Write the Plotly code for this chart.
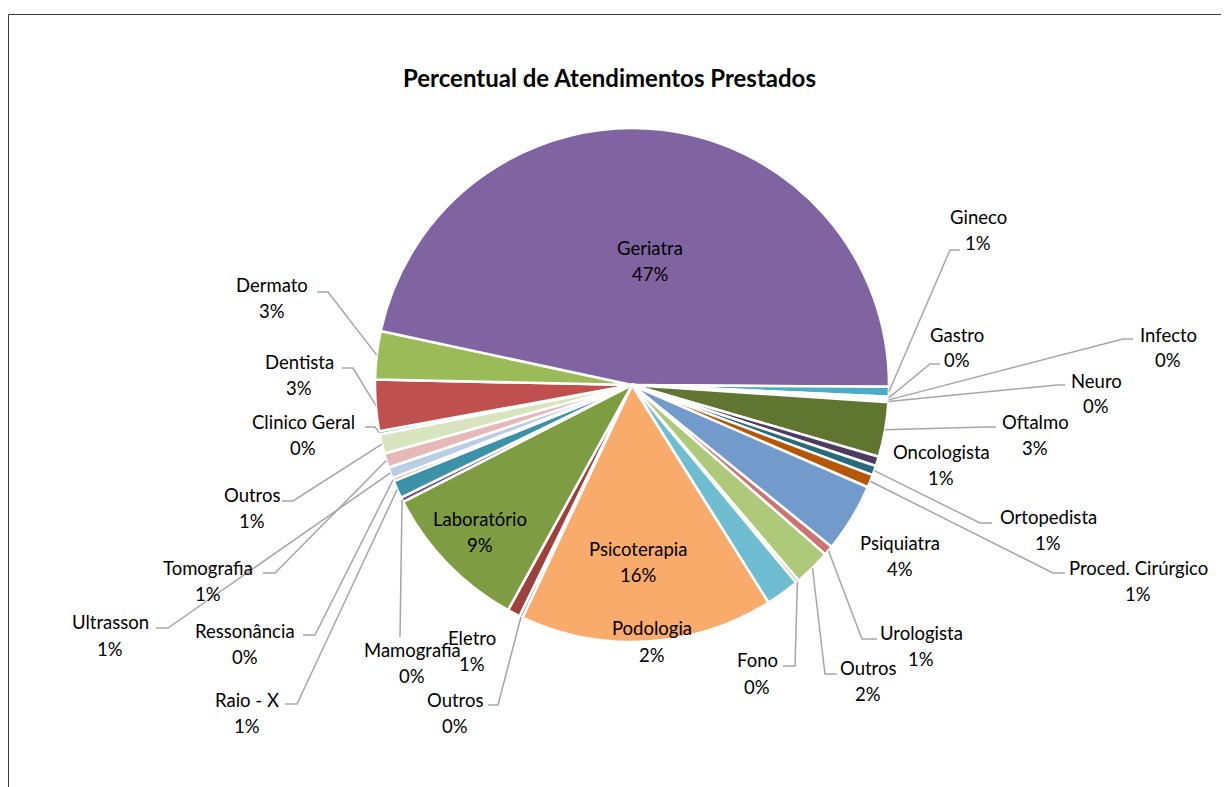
import math
import plotly.graph_objects as go

# ---------------- data ----------------
categories = ["Clinico Geral", "Dentista", "Dermato", "Geriatra", "Gineco", "Gastro",
              "Infecto", "Neuro", "Oftalmo", "Oncologista", "Ortopedista",
              "Proced. Cirúrgico", "Psiquiatra", "Urologista", "Outros", "Fono",
              "Podologia", "Psicoterapia", "Outros", "Eletro", "Laboratório",
              "Mamografia", "Raio - X", "Ressonância", "Ultrasson", "Tomografia", "Outros"]
shares = [0.2, 3.2, 3.0, 46.4, 0.6, 0.15,
          0.1, 0.1, 3.4, 0.6, 0.6,
          0.8, 4.3, 0.6, 2.3, 0.2,
          2.1, 15.8, 0.2, 0.8, 9.4,
          0.3, 1.1, 0.2, 0.7, 0.9, 1.2]
slice_colors = ["#4F81BD", "#C0504D", "#9BBB59", "#8064A2", "#4BACC6", "#F79646",
                "#2C4D75", "#772C2A", "#5F7530", "#4D3B62", "#276A7C",
                "#B65708", "#729ACA", "#CD7371", "#AFC97A", "#9983B5",
                "#6FBDD1", "#F9AB6B", "#3A5F8B", "#9E413E", "#7E9D42",
                "#664F84", "#3A91A8", "#D9782E", "#B9CDE5", "#E6B9B8", "#D7E4BD"]
title_text = "Percentual de Atendimentos Prestados"

# ---------------- layout / style ----------------
W, H = 1229, 787
OFF = 8  # page body margin
CX, CY, R = 632, 385, 257
ROT = 258.9
FONT = "Lato, Carlito, Calibri, sans-serif"
FS = 18.5
LEADER = "rgb(166,166,166)"

# label placement (screen pixels): idx -> (x, y_name, y_pct, leader points from label side or None)
label_pos = {
    0: (303, 422, 448, [(365, 427), (375, 427)]),
    1: (299, 362, 388, [(342, 368), (353, 368)]),
    2: (272, 285, 311, [(317, 292), (328, 292)]),
    3: (650, 248, 274, None),
    4: (978, 217, 243, [(960, 250), (950, 250)]),
    5: (957, 335, 360, [(940, 364), (930, 364)]),
    6: (1168, 335, 360, [(1133, 339), (1123, 339)]),
    7: (1096, 381, 406, [(1065, 385), (1057, 385)]),
    8: (1035, 422, 448, [(996, 427), (986, 427)]),
    9: (941, 452, 478, None),
    10: (1048, 517, 543, [(992, 523), (980, 523)]),
    11: (1138, 568, 594, [(1065, 573), (1053, 573)]),
    12: (900, 543, 569, None),
    13: (921, 633, 659, [(877, 639), (862, 639)]),
    14: (868, 668, 694, [(837, 674), (825, 674)]),
    15: (757, 660, 687, [(783, 666), (795, 666)]),
    16: (652, 628, 655, None),
    17: (638, 549, 575, None),
    18: (455, 700, 726, [(488, 705), (498, 705)]),
    19: (472, 638, 664, None),
    20: (480, 519, 545, None),
    21: (412, 650, 676, [(400, 637)]),
    22: (247, 700, 726, [(285, 704), (297, 704)]),
    23: (245, 631, 657, [(303, 635), (315, 635)]),
    24: (110, 622, 649, [(156, 628), (168, 628)]),
    25: (208, 568, 594, [(263, 573), (275, 573)]),
    26: (252, 495, 521, [(282, 501), (293, 501)]),
}


def px(x):
    return (x - OFF) / W


def py(y):
    return 1 - (y - OFF) / H


total = sum(shares)
pcts = [round(v / total * 100) for v in shares]
# unique internal labels so identical names are not merged
uniq = []
seen = {}
for c in categories:
    seen[c] = seen.get(c, 0) + 1
    uniq.append(c + " " * (seen[c] - 1))

fig = go.Figure(go.Pie(
    labels=uniq, values=shares, sort=False, direction="clockwise", rotation=ROT,
    marker=dict(colors=slice_colors, line=dict(color="white", width=2.5)),
    textinfo="none", hovertext=categories, hoverinfo="text+percent",
    showlegend=False,
    domain=dict(x=[px(CX - R), px(CX + R)], y=[py(CY + R), py(CY - R)]),
))

annotations = []
shapes = []
ang = ROT
for i, v in enumerate(shares):
    span = v / total * 360
    mid = math.radians(ang + span / 2)
    ang += span
    sx = CX + R * math.sin(mid)
    sy = CY - R * math.cos(mid)
    lx, yn, yp, pts = label_pos[i]
    annotations.append(dict(x=px(lx), y=py(yn), xref="paper", yref="paper",
                            text=categories[i], showarrow=False,
                            xanchor="center", yanchor="middle",
                            font=dict(family=FONT, size=FS, color="black")))
    annotations.append(dict(x=px(lx), y=py(yp), xref="paper", yref="paper",
                            text=f"{pcts[i]}%", showarrow=False,
                            xanchor="center", yanchor="middle",
                            font=dict(family=FONT, size=FS, color="black")))
    if pts:
        allp = list(pts) + [(sx, sy)]
        path = "M " + " L ".join(f"{px(a):.5f},{py(b):.5f}" for a, b in allp)
        shapes.append(dict(type="path", path=path, xref="paper", yref="paper",
                           line=dict(color=LEADER, width=1.5)))

annotations.append(dict(x=px(609), y=py(77), xref="paper", yref="paper",
                        text=f"<b>{title_text}</b>", showarrow=False,
                        xanchor="center", yanchor="middle",
                        font=dict(family=FONT, size=24, color="black")))

# chart frame
shapes.append(dict(type="path",
                   path=f"M {px(8.5)},{py(H + OFF)} L {px(8.5)},{py(14.5)} L {px(W + OFF)},{py(14.5)}",
                   xref="paper", yref="paper", line=dict(color="#3a3a3a", width=1)))

fig.update_layout(width=W, height=H, margin=dict(l=0, r=0, t=0, b=0),
                  paper_bgcolor="white", plot_bgcolor="white",
                  annotations=annotations, shapes=shapes,
                  font=dict(family=FONT))
fig.write_html("out.html")
